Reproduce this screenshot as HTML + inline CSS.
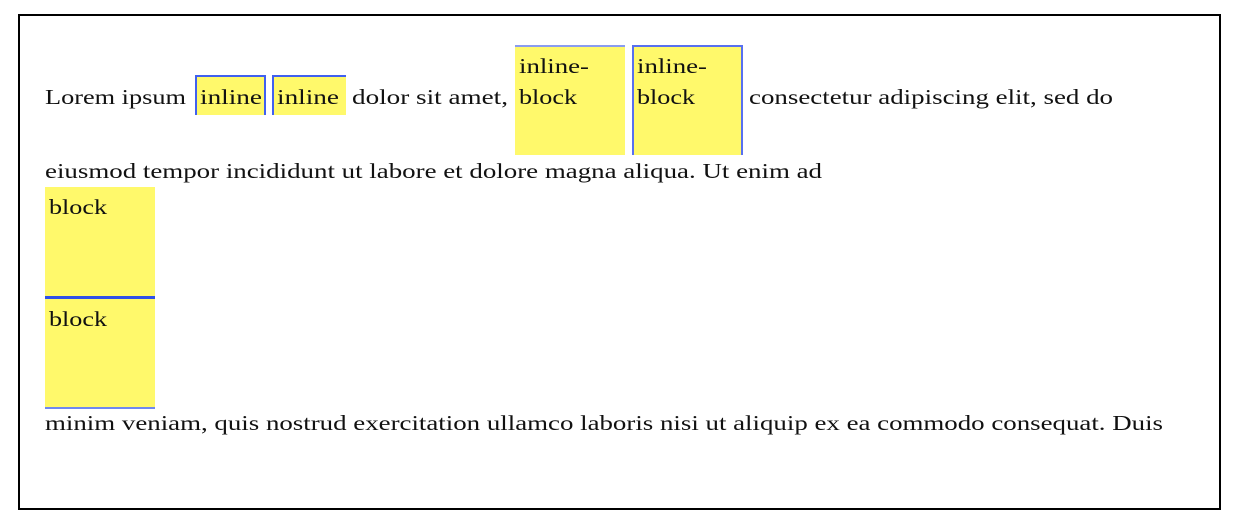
<!DOCTYPE html>
<html><head><meta charset="utf-8"><style>
html,body{margin:0;padding:0;background:#fff;width:1244px;height:524px;overflow:hidden}
svg{display:block}
text{font-family:"Liberation Serif",serif;font-size:21px;fill:#111}
</style></head><body>
<svg width="1244" height="524" xmlns="http://www.w3.org/2000/svg">
<rect x="19" y="15" width="1201" height="494" fill="#fff" stroke="#000" stroke-width="2"/>
<!-- inline boxes -->
<rect x="195" y="75" width="71" height="40" fill="#fff96b"/>
<path d="M196 115V76H265V115" fill="none" stroke="#4060f0" stroke-width="2"/>
<rect x="272" y="75" width="74" height="40" fill="#fff96b"/>
<path d="M273 115V76H346" fill="none" stroke="#4060f0" stroke-width="2"/>
<!-- inline-blocks -->
<rect x="515" y="45" width="110" height="110" fill="#fff96b"/>
<line x1="515" y1="46" x2="625" y2="46" stroke="#8a9cf0" stroke-width="2"/>
<rect x="632" y="45" width="111" height="110" fill="#fff96b"/>
<path d="M633 155V46H742V155" fill="none" stroke="#5870f0" stroke-width="2"/>
<!-- blocks -->
<rect x="45" y="187" width="110" height="110" fill="#fff96b"/>
<rect x="45" y="296" width="110" height="3" fill="#3050e8"/>
<rect x="45" y="299" width="110" height="108" fill="#fff96b"/>
<rect x="45" y="407" width="110" height="2" fill="#7088f0"/>
<text x="45" y="104" textLength="141" lengthAdjust="spacingAndGlyphs">Lorem ipsum</text>
<text x="200" y="104" textLength="62" lengthAdjust="spacingAndGlyphs">inline</text>
<text x="277" y="104" textLength="62" lengthAdjust="spacingAndGlyphs">inline</text>
<text x="352" y="104" textLength="156" lengthAdjust="spacingAndGlyphs">dolor sit amet,</text>
<text x="519" y="73" textLength="70" lengthAdjust="spacingAndGlyphs">inline-</text>
<text x="519" y="104" textLength="58" lengthAdjust="spacingAndGlyphs">block</text>
<text x="637" y="73" textLength="70" lengthAdjust="spacingAndGlyphs">inline-</text>
<text x="637" y="104" textLength="58" lengthAdjust="spacingAndGlyphs">block</text>
<text x="749" y="104" textLength="364" lengthAdjust="spacingAndGlyphs">consectetur adipiscing elit, sed do</text>
<text x="45" y="178" textLength="777" lengthAdjust="spacingAndGlyphs">eiusmod tempor incididunt ut labore et dolore magna aliqua. Ut enim ad</text>
<text x="49" y="214" textLength="58" lengthAdjust="spacingAndGlyphs">block</text>
<text x="49" y="326" textLength="58" lengthAdjust="spacingAndGlyphs">block</text>
<text x="45" y="430" textLength="1118" lengthAdjust="spacingAndGlyphs">minim veniam, quis nostrud exercitation ullamco laboris nisi ut aliquip ex ea commodo consequat. Duis</text>
</svg>
</body></html>
